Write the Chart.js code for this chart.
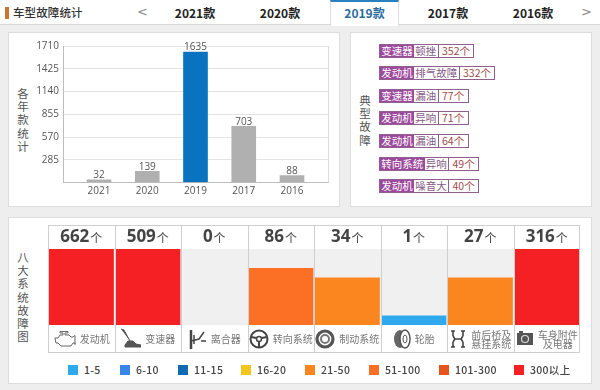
<!DOCTYPE html>
<html lang="zh">
<head>
<meta charset="utf-8">
<title>车型故障统计</title>
<script src="https://cdn.jsdelivr.net/npm/chart.js@4"></script>
<style>
  * { box-sizing: border-box; }
  html, body { margin: 0; padding: 0; }
  body {
    position: relative;
    width: 600px;
    height: 390px;
    overflow: hidden;
    background: #eeeeee;
    font-family: "Noto Sans CJK SC", "Noto Sans", sans-serif;
    color: #444;
  }
  .abs { position: absolute; }
  #header { left: 0; top: 0; width: 600px; height: 25px; background: #fff; border-bottom: 1px solid #d9d9d9; }
  #mark { left: 5px; top: 7px; width: 4px; height: 12px; background: #c9762f; }
  #title { left: 13px; top: 3px; font-size: 11.5px; line-height: 19px; font-weight: 500; color: #333; letter-spacing: .1px; }
  .tab { top: 0; height: 25px; line-height: 25px; text-align: center; font-size: 12px; font-weight: 700; color: #222; width: 84px; }
  .tab.on { background: #fff; color: #2b6e9e; border-top: 2px solid #2a7fc0; border-left: 1px solid #ddd; border-right: 1px solid #ddd; line-height: 21px; height: 26px; left: 330px !important; width: 69px; }
  .arrow { top: 2px; font-size: 13px; line-height: 20px; color: #888; font-family: "DejaVu Sans", sans-serif; }
  .panel { background: #fff; border: 1px solid #dcdcdc; }
  .vtitle { width: 16px; text-align: center; font-size: 11.5px; line-height: 13.2px; color: #555; }
  .fault { left: 379px; height: 14px; display: flex; font-size: 10.5px; line-height: 12px; border: 1px solid #8f5f8f; white-space: nowrap; }
  .fault span { padding: 0 1.25px; }
  .fault .sys { background: #9c4a9c; color: #fff; }
  .fault .kind { color: #855a85; border-right: 1px solid #8f5f8f; }
  .fault .num { color: #a34a4a; padding: 0 3.5px; }
  canvas { display: block; }
  #foot { left: 48px; top: 325px; width: 532px; height: 28px; display: flex; }
  .cell { width: 66.5px; height: 28px; display: flex; align-items: center; justify-content: center; gap: 4px; font-size: 10px; line-height: 9.5px; color: #777; text-align: center; }
  .key { top: 364px; height: 11px; display: flex; align-items: center; font-size: 10.5px; font-weight: 500; color: #444; white-space: nowrap; letter-spacing: .3px; }
  .key i { width: 10px; height: 10px; margin-right: 6px; display: block; }
</style>
</head>
<body>
<div class="abs" id="header"></div>
<div class="abs" id="mark"></div>
<div class="abs" id="title">车型故障统计</div>
<div class="abs arrow" style="left:137px">&lt;</div>
<div class="abs arrow" style="left:581px">&gt;</div>
<div id="tabs"></div>

<div class="abs panel" style="left:8px;top:32px;width:332px;height:175px"></div>
<div class="abs panel" style="left:350px;top:32px;width:242px;height:175px"></div>
<div class="abs panel" style="left:8px;top:217px;width:584px;height:167px"></div>

<div class="abs vtitle" style="left:15px;top:87px">各<br>年<br>款<br>统<br>计</div>
<div class="abs vtitle" style="left:357px;top:94px">典<br>型<br>故<br>障</div>
<div class="abs vtitle" style="left:15px;top:251px">八<br>大<br>系<br>统<br>故<br>障<br>图</div>

<canvas class="abs" id="year-chart" width="330" height="173" style="left:9px;top:33px"></canvas>
<div id="faults"></div>
<canvas class="abs" id="system-chart" width="532" height="128" style="left:48px;top:225px"></canvas>
<div class="abs" id="foot"></div>
<div id="legend"></div>

<script>
// year chart
const years = ['2021', '2020', '2019', '2017', '2016'];
const yearCounts = [32, 139, 1635, 703, 88];
const activeYear = '2019';
const tabYears = ['2021', '2020', '2019', '2017', '2016'];

// typical faults
const faultSystems = ['变速器', '发动机', '变速器', '发动机', '发动机', '转向系统', '发动机'];
const faultKinds = ['顿挫', '排气故障', '漏油', '异响', '漏油', '异响', '噪音大'];
const faultCounts = [352, 332, 77, 71, 64, 49, 40];

// eight systems
const systemNames = [['发动机'], ['变速器'], ['离合器'], ['转向系统'], ['制动系统'], ['轮胎'], ['前后桥及', '悬挂系统'], ['车身附件', '及电器']];
const systemCounts = [662, 509, 0, 86, 34, 1, 27, 316];
const systemLevels = [8, 8, 0, 6, 5, 1, 5, 8];
const legendLabels = ['1-5', '6-10', '11-15', '16-20', '21-50', '51-100', '101-300', '300以上'];
const legendColors = ['#2fa9ee', '#3a86e8', '#0f69b4', '#f2c61c', '#fb8620', '#fb7025', '#e8541e', '#f52024'];

const FONT = '"Noto Sans CJK SC", "Noto Sans", sans-serif';
const TICK_FONT = '"Open Sans", "Noto Sans", sans-serif';

const icons = [
  '<path d="M2 10h3l2-3h3V5h-3V3.5h8V5h-3v2h4l2 2h2l2-1.5v9L22 15h-2l-2 3H8l-3-3H3z" fill="none" stroke="#666" stroke-width="1"/>',
  '<path d="M1 1l3 1 6 11M5 17l3-4h5l3 3 5 1v2H5z" fill="#555" stroke="#555" stroke-width="1"/>',
  '<path d="M3 2v19" stroke="#444" stroke-width="2.5"/><path d="M6 7v9M3 13l8-2 5-7M13 13h5" stroke="#444" stroke-width="1.5" fill="none"/>',
  '<circle cx="10" cy="11" r="8.5" fill="none" stroke="#444" stroke-width="2"/><circle cx="10" cy="11" r="2.5" fill="none" stroke="#444" stroke-width="1.5"/><path d="M2 9l5.5 1M18 9l-5.5 1M10 13.5V19" stroke="#444" stroke-width="2"/>',
  '<circle cx="10" cy="11" r="8" fill="none" stroke="#555" stroke-width="3.2"/><circle cx="10" cy="11" r="4" fill="none" stroke="#777" stroke-width="2"/>',
  '<ellipse cx="7" cy="11" rx="6" ry="9" fill="#666"/><ellipse cx="12" cy="11" rx="5" ry="9" fill="#fff" stroke="#555" stroke-width="1.5"/><ellipse cx="12" cy="11" rx="2" ry="4" fill="none" stroke="#555"/>',
  '<path d="M2 3h4M2 19h4M12 3h4M12 19h4M4 3v5M14 3v5M4 14v5M14 14v5M4 8l2 3h6l2-3M4 14l2-3M14 14l-2-3" stroke="#444" stroke-width="1.6" fill="none"/>',
  '<rect x="1" y="5" width="16" height="12" fill="#555"/><rect x="3" y="3" width="4" height="2" fill="#555"/><circle cx="9" cy="11" r="3.5" fill="none" stroke="#ddd" stroke-width="1.2"/>'
];
const iconWidths = [23, 21, 19, 20, 20, 18, 18, 18];

// tabs
const tabLefts = [153, 238, 330, 406, 491];
tabYears.forEach((y, i) => {
  const el = document.createElement('div');
  el.className = 'abs tab' + (y === activeYear ? ' on' : '');
  el.style.left = tabLefts[i] + 'px';
  el.textContent = y + '款';
  document.getElementById('tabs').appendChild(el);
});

// fault tags
faultSystems.forEach((sys, i) => {
  const row = document.createElement('div');
  row.className = 'abs fault';
  row.style.top = (43.5 + i * 22.6) + 'px';
  row.innerHTML = `<span class="sys">${sys}</span><span class="kind">${faultKinds[i]}</span><span class="num">${faultCounts[i]}个</span>`;
  document.getElementById('faults').appendChild(row);
});

// system labels under the bars
systemNames.forEach((lines, i) => {
  const cell = document.createElement('div');
  cell.className = 'cell';
  cell.innerHTML = `<svg width="${iconWidths[i]}" height="22" viewBox="0 0 ${iconWidths[i]} 22">${icons[i]}</svg><div>${lines.join('<br>')}</div>`;
  document.getElementById('foot').appendChild(cell);
});

// legend
const legendLefts = [68, 120, 178, 241, 305, 369, 439, 514];
legendLabels.forEach((label, i) => {
  const key = document.createElement('div');
  key.className = 'abs key';
  key.style.left = legendLefts[i] + 'px';
  key.innerHTML = `<i style="background:${legendColors[i]}"></i>${label}`;
  document.getElementById('legend').appendChild(key);
});

// value labels + right frame for the year chart
const yearDecor = {
  id: 'yearDecor',
  afterDatasetsDraw(chart) {
    const { ctx, chartArea } = chart;
    ctx.save();
    ctx.strokeStyle = '#dddddd';
    ctx.beginPath();
    ctx.moveTo(Math.round(chartArea.right) + 0.5, chartArea.top);
    ctx.lineTo(Math.round(chartArea.right) + 0.5, chartArea.bottom);
    ctx.stroke();
    ctx.font = '10px ' + TICK_FONT;
    ctx.fillStyle = '#555';
    ctx.textAlign = 'center';
    ctx.textBaseline = 'bottom';
    chart.getDatasetMeta(0).data.forEach((bar, i) => {
      ctx.fillText(yearCounts[i], bar.x, bar.y + 0.5);
    });
    ctx.restore();
  }
};

new Chart(document.getElementById('year-chart'), {
  type: 'bar',
  data: {
    datasets: [{
      data: yearCounts.map((v, i) => ({ x: i, y: v })),
      backgroundColor: years.map(y => (y === activeYear ? '#0a73c0' : '#b0b0b0')),
      barThickness: 24
    }]
  },
  plugins: [yearDecor],
  options: {
    responsive: false,
    animation: false,
    layout: { padding: { top: 13, right: 11 } },
    plugins: { legend: { display: false }, tooltip: { enabled: false } },
    scales: {
      x: {
        type: 'linear',
        offset: false,
        min: -0.746,
        max: 4.746,
        afterBuildTicks: scale => { scale.ticks = years.map((_, i) => ({ value: i })); },
        afterFit: scale => { scale.height = 23.5; },
        grid: { display: false, drawTicks: false },
        border: { color: '#bdbdbd' },
        ticks: {
          autoSkip: false,
          maxRotation: 0,
          padding: 3,
          color: '#555',
          font: { family: TICK_FONT, size: 10 },
          callback: value => years[value]
        }
      },
      y: {
        min: 0,
        max: 1710,
        afterFit: scale => { scale.width = 54; },
        grid: { color: '#e4e4e4', drawTicks: false },
        border: { color: '#bdbdbd' },
        ticks: {
          stepSize: 285,
          padding: 4,
          color: '#555',
          font: { family: TICK_FONT, size: 10 },
          callback: value => (value === 0 ? '' : value)
        }
      }
    }
  }
});

// grey plot background, cell lines and the counts above each bar
const systemDecor = {
  id: 'systemDecor',
  beforeDatasetsDraw(chart) {
    const { ctx, chartArea } = chart;
    ctx.save();
    ctx.fillStyle = '#f0f0f0';
    ctx.fillRect(chartArea.left, chartArea.top, chartArea.right - chartArea.left, chartArea.bottom - chartArea.top);
    ctx.restore();
  },
  afterDatasetsDraw(chart) {
    const { ctx, chartArea, width, height } = chart;
    const x = chart.scales.x;
    const step = x.getPixelForValue(1) - x.getPixelForValue(0);
    ctx.save();
    ctx.strokeStyle = '#cfcfcf';
    ctx.beginPath();
    for (let i = 0; i <= systemCounts.length; i++) {
      const px = Math.min(Math.round(x.getPixelForValue(0) - step / 2 + i * step) + 0.5, width - 0.5);
      ctx.moveTo(px, 0);
      ctx.lineTo(px, height);
    }
    ctx.moveTo(0, 0.5);
    ctx.lineTo(width, 0.5);
    ctx.moveTo(0, height - 0.5);
    ctx.lineTo(width, height - 0.5);
    ctx.stroke();
    ctx.textBaseline = 'middle';
    systemCounts.forEach((count, i) => {
      const big = String(count);
      ctx.font = '700 17px ' + TICK_FONT;
      const bigW = ctx.measureText(big).width;
      ctx.font = '12px ' + FONT;
      const unitW = ctx.measureText('个').width;
      const start = x.getPixelForValue(i) - (bigW + unitW + 1) / 2;
      ctx.textAlign = 'left';
      ctx.fillStyle = '#444';
      ctx.font = '700 17px ' + TICK_FONT;
      ctx.fillText(big, start, chartArea.top / 2);
      ctx.font = '12px ' + FONT;
      ctx.fillText('个', start + bigW + 1, chartArea.top / 2 + 1);
    });
    ctx.restore();
  }
};

new Chart(document.getElementById('system-chart'), {
  type: 'bar',
  data: {
    labels: systemNames.map(lines => lines.join('')),
    datasets: [{
      data: systemLevels,
      backgroundColor: systemLevels.map(level => legendColors[level - 1] || '#f0f0f0'),
      categoryPercentage: 1,
      barPercentage: 0.98
    }]
  },
  plugins: [systemDecor],
  options: {
    responsive: false,
    animation: false,
    layout: { padding: { top: 24, bottom: 28 } },
    plugins: { legend: { display: false }, tooltip: { enabled: false } },
    scales: {
      x: { display: false },
      y: { display: false, min: 0, max: 8 }
    }
  }
});
</script>
</body>
</html>
